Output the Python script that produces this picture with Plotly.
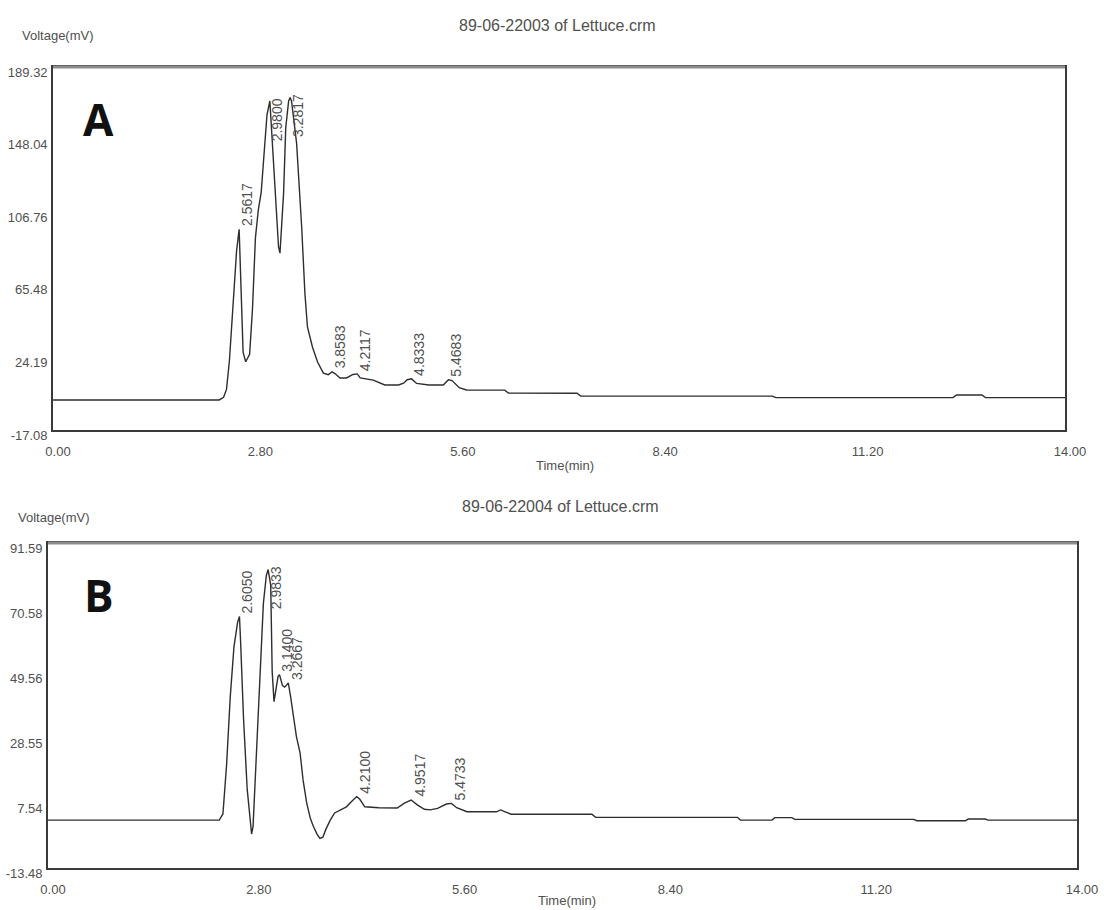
import numpy as np
import plotly.graph_objects as go

# ---------------- data ----------------
# Panel A : 89-06-22003 of Lettuce.crm
time_a = [0.00, 2.30, 2.36, 2.40, 2.44, 2.49, 2.54, 2.575, 2.59, 2.63, 2.666, 2.72, 2.76, 2.80,
          2.84, 2.88, 2.92, 2.96, 3.00, 3.02, 3.07, 3.12, 3.14, 3.19, 3.22, 3.26, 3.28, 3.30,
          3.37, 3.44, 3.485, 3.52, 3.59, 3.66, 3.74, 3.81, 3.86, 3.90, 3.97, 4.06, 4.15, 4.21,
          4.25, 4.43, 4.59, 4.78, 4.85, 4.90, 4.96, 5.03, 5.20, 5.40, 5.47, 5.52, 5.62, 5.72,
          6.25, 6.30, 7.25, 7.30, 9.95, 10.00, 12.45, 12.50, 12.85, 12.90, 14.00]
volt_a = [0.0, 0.0, 1.5, 6.0, 22.0, 57.0, 85.0, 97.0, 77.0, 27.0, 21.7, 26.0, 52.0, 92.0,
          108.0, 118.0, 140.0, 162.0, 170.0, 155.0, 117.6, 87.0, 83.5, 117.6, 155.0, 170.0, 172.0, 170.0,
          146.0, 98.5, 60.5, 41.5, 30.0, 21.6, 15.3, 14.4, 16.0, 15.0, 12.5, 12.5, 14.5, 14.8,
          12.5, 11.3, 8.5, 8.5, 9.5, 11.5, 12.0, 9.4, 8.5, 8.5, 11.5, 11.0, 7.0, 5.7,
          5.6, 4.0, 3.8, 2.2, 2.2, 1.3, 1.3, 2.8, 2.8, 1.3, 1.3]
peak_labels_a = ["2.5617", "2.9800", "3.2817", "3.8583", "4.2117", "4.8333", "5.4683"]
peak_times_a = [2.575, 3.00, 3.28, 3.86, 4.21, 4.96, 5.47]

# Panel B : 89-06-22004 of Lettuce.crm
time_b = [0.00, 2.33, 2.38, 2.43, 2.48, 2.53, 2.58, 2.605, 2.62, 2.66, 2.71, 2.75, 2.77, 2.79,
          2.83, 2.88, 2.93, 2.97, 2.995, 3.03, 3.05, 3.075, 3.10, 3.13, 3.15, 3.19, 3.22, 3.27,
          3.30, 3.34, 3.38, 3.43, 3.47, 3.52, 3.57, 3.61, 3.66, 3.70, 3.74, 3.78, 3.84, 3.90,
          3.98, 4.06, 4.13, 4.20, 4.24, 4.31, 4.50, 4.75, 4.85, 4.94, 5.02, 5.12, 5.20, 5.30,
          5.42, 5.49, 5.56, 5.70, 6.10, 6.16, 6.22, 6.30, 7.40, 7.45, 9.38, 9.42, 9.85, 9.89,
          10.12, 10.16, 11.78, 11.82, 12.48, 12.52, 12.75, 12.79, 14.00]
volt_b = [2.0, 2.0, 4.0, 20.0, 42.0, 58.0, 66.0, 67.8, 60.0, 35.0, 12.0, 1.0, -2.5, 0.0,
          22.0, 50.0, 72.0, 81.0, 83.0, 78.0, 50.0, 40.3, 44.0, 48.5, 49.0, 45.5, 45.0, 46.3,
          42.0, 35.0, 29.0, 23.7, 15.0, 7.5, 2.5, 0.0, -2.5, -3.9, -3.5, -1.0, 2.0, 4.3,
          5.2, 6.3, 8.0, 9.6, 8.8, 6.3, 6.0, 5.9, 7.5, 8.5, 7.0, 5.5, 5.3, 5.8,
          7.2, 7.4, 6.0, 4.7, 4.7, 5.3, 4.7, 3.9, 3.9, 2.9, 2.9, 2.0, 2.0, 2.8,
          2.8, 2.25, 2.25, 1.8, 1.8, 2.35, 2.35, 2.0, 2.0]
peak_labels_b = ["2.6050", "2.9833", "3.1400", "3.2667", "4.2100", "4.9517", "5.4733"]
peak_times_b = [2.605, 2.995, 3.15, 3.27, 4.20, 4.94, 5.49]

x_tick_vals = [0.0, 2.8, 5.6, 8.4, 11.2, 14.0]
x_tick_text = ["0.00", "2.80", "5.60", "8.40", "11.20", "14.00"]
y_tick_vals_a = [-17.08, 24.19, 65.48, 106.76, 148.04, 189.32]
y_tick_text_a = ["-17.08", "24.19", "65.48", "106.76", "148.04", "189.32"]
y_tick_vals_b = [-13.48, 7.54, 28.55, 49.56, 70.58, 91.59]
y_tick_text_b = ["-13.48", "7.54", "28.55", "49.56", "70.58", "91.59"]

titles = ["89-06-22003 of Lettuce.crm", "89-06-22004 of Lettuce.crm"]
panel_letters = ["A", "B"]

# ---------------- layout geometry (pixels) ----------------
W, H = 1104, 910
boxes = [  # left, right, top, bottom in px
    (53, 1065, 67, 430),
    (48, 1077, 543, 868),
]

TEXT = "#505050"
LINE = "#3a3a3a"
FONT = "Liberation Sans, Arial, sans-serif"

def px_x(p):
    return p / W

def px_y(p):
    return 1 - p / H

fig = go.Figure()
fig.add_trace(go.Scatter(x=time_a, y=volt_a, mode="lines", line=dict(color="#2e2e2e", width=1.4),
                         xaxis="x", yaxis="y", hoverinfo="skip", showlegend=False))
fig.add_trace(go.Scatter(x=time_b, y=volt_b, mode="lines", line=dict(color="#2e2e2e", width=1.4),
                         xaxis="x2", yaxis="y2", hoverinfo="skip", showlegend=False))

axis_common = dict(showgrid=False, zeroline=False, showline=True, mirror=True,
                   linecolor=LINE, linewidth=1.6, ticks="", automargin=False,
                   tickfont=dict(family=FONT, size=13, color=TEXT))

yranges = [(y_tick_vals_a[0], y_tick_vals_a[-1]), (y_tick_vals_b[0], y_tick_vals_b[-1])]
layout = dict(width=W, height=H, margin=dict(l=0, r=0, t=0, b=0, autoexpand=False),
              paper_bgcolor="white", plot_bgcolor="white", showlegend=False)
for i, (l, r, t, b) in enumerate(boxes):
    sx = "" if i == 0 else "2"
    ytv, ytt = (y_tick_vals_a, y_tick_text_a) if i == 0 else (y_tick_vals_b, y_tick_text_b)
    layout["xaxis" + sx] = dict(axis_common, domain=[px_x(l), px_x(r)], anchor="y" + sx,
                                range=[0, 14], tickvals=x_tick_vals, ticktext=x_tick_text,
                                ticklabelstandoff=9, ticklabelshift=5)
    layout["yaxis" + sx] = dict(axis_common, domain=[px_y(b), px_y(t)], anchor="x" + sx,
                                range=list(yranges[i]), tickvals=ytv, ticktext=ytt,
                                ticklabelstandoff=1, ticklabelshift=5)
fig.update_layout(**layout)

ann = []
shapes = []
title_pos = [(557, 25), (560, 506)]
volt_pos = [(58, 36), (54, 517)]
time_pos = [(565, 466), (567, 900)]
letter_pos = [(98, 119), (99, 595)]
for i in range(2):
    ann.append(dict(xref="paper", yref="paper", x=px_x(title_pos[i][0]), y=px_y(title_pos[i][1]),
                    text=titles[i], showarrow=False, xanchor="center", yanchor="middle",
                    font=dict(family=FONT, size=16, color=TEXT)))
    ann.append(dict(xref="paper", yref="paper", x=px_x(volt_pos[i][0]), y=px_y(volt_pos[i][1]),
                    text="Voltage(mV)", showarrow=False, xanchor="center", yanchor="middle",
                    font=dict(family=FONT, size=13, color=TEXT)))
    ann.append(dict(xref="paper", yref="paper", x=px_x(time_pos[i][0]), y=px_y(time_pos[i][1]),
                    text="Time(min)", showarrow=False, xanchor="center", yanchor="middle",
                    font=dict(family=FONT, size=13, color=TEXT)))
    ann.append(dict(xref="paper", yref="paper", x=px_x(letter_pos[i][0]), y=px_y(letter_pos[i][1]),
                    text="<b>%s</b>" % panel_letters[i], showarrow=False, xanchor="center",
                    yanchor="middle", font=dict(family="Open Sans, Liberation Sans, sans-serif",
                                                size=44, color="#111")))
    l, r, t, b = boxes[i]
    shapes.append(dict(type="line", xref="paper", yref="paper", x0=px_x(l), x1=px_x(r),
                       y0=px_y(t), y1=px_y(t), line=dict(color="#8c8c8c", width=3)))

# peak retention-time labels
label_size = 14
label_len = 3.06 * label_size
for i in range(2):
    sx = "" if i == 0 else "2"
    tt, vv = (time_a, volt_a) if i == 0 else (time_b, volt_b)
    labels, ptimes = (peak_labels_a, peak_times_a) if i == 0 else (peak_labels_b, peak_times_b)
    l, r, t, b = boxes[i]
    ymin, ymax = yranges[i]
    ppu = (b - t) / (ymax - ymin)
    for lab, pt in zip(labels, ptimes):
        pv = float(np.interp(pt, tt, vv))
        if (ymax - pv) * ppu < label_len + 6:
            yanchor, yshift = "top", 5
        else:
            yanchor, yshift = "bottom", 1
        ann.append(dict(xref="x" + sx, yref="y" + sx, x=pt, y=pv, text=lab, textangle=-90,
                        showarrow=False, xanchor="center", yanchor=yanchor, xshift=8,
                        yshift=yshift, font=dict(family=FONT, size=label_size, color=TEXT)))

fig.update_layout(annotations=ann, shapes=shapes)
fig.write_html("out.html", config={"displayModeBar": False},
               post_script="document.body.style.margin='0px';document.body.style.overflow='hidden';")
